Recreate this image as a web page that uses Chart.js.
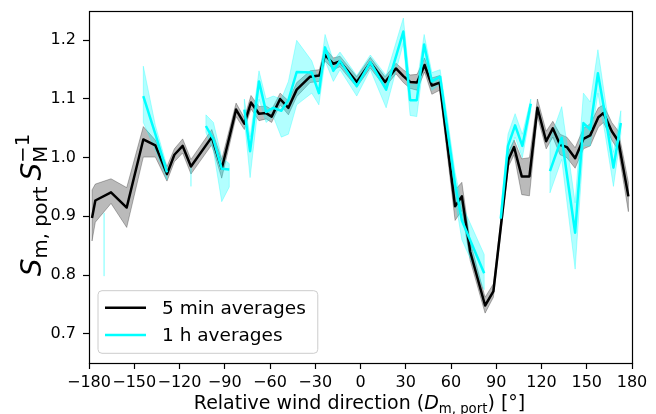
<!DOCTYPE html>
<html>
<head>
<meta charset="utf-8">
<script src="https://cdn.jsdelivr.net/npm/chart.js@4.4.1/dist/chart.umd.min.js"></script>
<style>
  html, body { margin: 0; padding: 0; background: #ffffff; }
  #wrap { width: 656px; height: 414px; }
</style>
</head>
<body>
<div id="wrap"><canvas id="chart" width="656" height="414"></canvas></div>
<script>
// Port-side speed ratio versus relative wind direction.

// 5 min averages: direction [deg], mean ratio, lower / upper band
const dirFiveMin = [-178, -175.8, -165.4, -155, -144, -136, -128.3, -123.4, -117.9, -112.4,
  -98.6, -92, -82.5, -77, -72.6, -67.3, -62.6, -58.9, -53.3, -47.8,
  -42.3, -33.4, -27.3, -23.5, -18, -13.6, -2.5, 6.5, 16.3, 23.5,
  28.4, 32.9, 37.5, 42.5, 47.3, 52.5, 62.7, 67.2, 72.7, 82.6,
  88.1, 93.6, 98.1, 101.8, 106.9, 112, 117.3, 123.1, 127.5, 132.3,
  136.8, 142.3, 147.8, 152.3, 157.7, 161.1, 166.6, 171, 177.6];
const sFiveMin = [0.897, 0.927, 0.941, 0.915, 1.031, 1.021, 0.972, 1.005, 1.020, 0.985,
  1.035, 0.981, 1.082, 1.058, 1.094, 1.075, 1.076, 1.070, 1.100, 1.085,
  1.116, 1.138, 1.140, 1.175, 1.160, 1.164, 1.129, 1.162, 1.129, 1.152,
  1.139, 1.129, 1.128, 1.158, 1.123, 1.128, 0.917, 0.934, 0.840, 0.748,
  0.772, 0.895, 0.997, 1.018, 0.968, 0.968, 1.085, 1.028, 1.050, 1.022,
  1.018, 0.999, 1.032, 1.038, 1.069, 1.076, 1.045, 1.028, 0.934];
const sFiveMinLo = [0.858, 0.890, 0.922, 0.881, 1.001, 1.001, 0.960, 0.993, 1.008, 0.972,
  1.022, 0.965, 1.070, 1.048, 1.083, 1.063, 1.066, 1.060, 1.090, 1.073,
  1.104, 1.128, 1.130, 1.165, 1.150, 1.155, 1.120, 1.153, 1.120, 1.143,
  1.128, 1.118, 1.115, 1.146, 1.108, 1.115, 0.893, 0.910, 0.825, 0.735,
  0.762, 0.885, 0.985, 1.005, 0.937, 0.935, 1.070, 1.015, 1.035, 1.005,
  1.000, 0.982, 1.015, 1.020, 1.052, 1.060, 1.030, 1.012, 0.908];
const sFiveMinHi = [0.945, 0.955, 0.964, 0.949, 1.053, 1.030, 0.985, 1.015, 1.032, 0.997,
  1.048, 0.997, 1.093, 1.068, 1.106, 1.087, 1.088, 1.082, 1.110, 1.097,
  1.128, 1.148, 1.150, 1.187, 1.170, 1.173, 1.138, 1.171, 1.138, 1.161,
  1.150, 1.141, 1.142, 1.170, 1.136, 1.140, 0.945, 0.958, 0.857, 0.762,
  0.785, 0.905, 1.010, 1.030, 0.998, 1.000, 1.100, 1.045, 1.062, 1.040,
  1.035, 1.017, 1.050, 1.058, 1.085, 1.090, 1.060, 1.045, 0.958];

// 1 h averages (null marks directions without data)
const dirHourly = [-170, null, -144, -136, -128.3, null, -112.4, null,
  -102.5, -97.5, -92, -87, null,
  -77, -73.2, -67.3, -62.6, -57.8, -52.5, -47.8, -42.3, -32.3, -27.6,
  -23.5, -18, -13.6, -2.5, 6.5, 17, 28.4, 32.9, 37.3, 42.2,
  47.3, 52.8, 57.5, 62.7, 67.2, 82, null,
  93, 97.8, 102.5, 107.3, 112.9, null,
  125.6, 133.4, 142.3, 147.8, 152.3, 157.4, 162.2, 167.7, 172.6];
const sHourly = [0.850, null, 1.105, 1.040, 0.975, null, 0.968, null,
  1.054, 1.031, 0.981, 0.980, null,
  1.082, 1.011, 1.130, 1.078, 1.085, 1.080, 1.098, 1.146, 1.145, 1.110,
  1.188, 1.148, 1.165, 1.122, 1.163, 1.116, 1.215, 1.098, 1.098, 1.193,
  1.130, 1.138, 1.050, 0.955, 0.893, 0.803, null,
  0.896, 1.020, 1.055, 1.020, 1.092, null,
  0.977, 1.034, 0.872, 1.059, 1.048, 1.144, 1.073, 0.983, 1.059];
const sHourlyLo = [0.798, null, 1.060, 1.013, 0.962, null, 0.951, null,
  1.043, 1.012, 0.925, 0.950, null,
  1.065, 0.966, 1.100, 1.060, 1.070, 1.035, 1.040, 1.090, 1.110, 1.090,
  1.165, 1.130, 1.150, 1.105, 1.150, 1.085, 1.195, 1.072, 1.070, 1.170,
  1.115, 1.125, 1.025, 0.930, 0.860, 0.775, null,
  0.885, 1.000, 1.035, 1.000, 1.080, null,
  0.940, 0.997, 0.810, 1.020, 1.020, 1.110, 1.040, 0.951, 1.040];
const sHourlyHi = [0.906, null, 1.156, 1.055, 0.985, null, 0.985, null,
  1.073, 1.060, 1.000, 0.990, null,
  1.100, 1.035, 1.148, 1.100, 1.105, 1.100, 1.130, 1.200, 1.165, 1.130,
  1.210, 1.165, 1.180, 1.140, 1.175, 1.140, 1.238, 1.125, 1.125, 1.210,
  1.145, 1.150, 1.070, 0.975, 0.920, 0.835, null,
  0.910, 1.040, 1.075, 1.040, 1.100, null,
  1.030, 1.087, 0.923, 1.110, 1.095, 1.184, 1.100, 1.009, 1.080];

const xTicks = [-180, -150, -120, -90, -60, -30, 0, 30, 60, 90, 120, 150, 180];
const yTicks = [0.7, 0.8, 0.9, 1.0, 1.1, 1.2];

const FONT = '"DejaVu Sans", sans-serif';
const MINUS = '\u2212';

const bandSets = [
  { dir: dirFiveMin, lo: sFiveMinLo, hi: sFiveMinHi, color: 'rgba(0,0,0,0.27)' },
  { dir: dirHourly, lo: sHourlyLo, hi: sHourlyHi, color: 'rgba(0,255,255,0.30)' }
];

function runsOf(dir) {
  const runs = [];
  let start = -1;
  for (let i = 0; i <= dir.length; i++) {
    const ok = i < dir.length && dir[i] !== null;
    if (ok && start < 0) start = i;
    if (!ok && start >= 0) { runs.push([start, i - 1]); start = -1; }
  }
  return runs;
}

// shaded spread bands under the lines
const bandPlugin = {
  id: 'spreadBands',
  beforeDatasetsDraw(chart) {
    const { ctx, chartArea: a, scales: { x, y } } = chart;
    ctx.save();
    ctx.beginPath();
    ctx.rect(a.left, a.top, a.right - a.left, a.bottom - a.top);
    ctx.clip();
    bandSets.forEach(b => {
      ctx.fillStyle = b.color;
      ctx.strokeStyle = b.color;
      ctx.lineWidth = 1;
      ctx.lineJoin = 'round';
      runsOf(b.dir).forEach(([s, e]) => {
        ctx.beginPath();
        for (let i = s; i <= e; i++) {
          const px = x.getPixelForValue(b.dir[i]);
          const py = y.getPixelForValue(b.hi[i]);
          if (i === s) ctx.moveTo(px, py); else ctx.lineTo(px, py);
        }
        for (let i = e; i >= s; i--) {
          ctx.lineTo(x.getPixelForValue(b.dir[i]), y.getPixelForValue(b.lo[i]));
        }
        ctx.closePath();
        ctx.fill();
        ctx.stroke();
      });
    });
    ctx.restore();
  }
};

// axes frame on all four sides
const framePlugin = {
  id: 'axesFrame',
  afterDatasetsDraw(chart) {
    const { ctx, chartArea: a } = chart;
    ctx.save();
    ctx.strokeStyle = '#000';
    ctx.lineWidth = 1.2;
    ctx.strokeRect(Math.round(a.left) + 0.5, Math.round(a.top) + 0.5,
      Math.round(a.right - a.left), Math.round(a.bottom - a.top));
    ctx.restore();
  }
};

// text with italic letters, subscripts and superscripts
function layoutRich(ctx, runs, size) {
  let x = 0, prevStart = 0, prevW = 0;
  const items = runs.map(r => {
    const fs = size * (r.s || 1);
    const font = (r.it ? 'italic ' : '') + fs + 'px ' + FONT;
    ctx.font = font;
    const w = ctx.measureText(r.t).width;
    let x0;
    if (r.stack) {
      x0 = prevStart;
      x = Math.max(prevStart + prevW, x0 + w);
    } else {
      x0 = x + (r.gap || 0) * size;
      x = x0 + w;
    }
    prevStart = x0; prevW = w;
    return { font, t: r.t, x: x0, dy: (r.dy || 0) * size };
  });
  return { items, width: x };
}
function drawRich(ctx, runs, size, cx, baseline) {
  const { items, width } = layoutRich(ctx, runs, size);
  const x0 = cx - width / 2;
  ctx.textBaseline = 'alphabetic';
  ctx.textAlign = 'left';
  items.forEach(it => {
    ctx.font = it.font;
    ctx.fillText(it.t, x0 + it.x, baseline + it.dy);
  });
}

const axisTitlePlugin = {
  id: 'axisTitles',
  afterDraw(chart) {
    const { ctx, chartArea: a } = chart;
    ctx.save();
    ctx.fillStyle = '#000';
    const xs = 19;
    drawRich(ctx, [
      { t: 'Relative wind direction (' },
      { t: 'D', it: true },
      { t: 'm, port', s: 0.7, dy: 0.22 },
      { t: ') [\u00b0]' }
    ], xs, (a.left + a.right) / 2 - 1, 409);

    const ys = 28;
    ctx.translate(31, 205);
    ctx.rotate(-Math.PI / 2);
    drawRich(ctx, [
      { t: 'S', it: true },
      { t: 'm, port', s: 0.7, dy: 0.22 },
      { t: 'S', it: true, gap: 0.22 },
      { t: 'M', s: 0.7, dy: 0.22 },
      { t: MINUS + '1', s: 0.7, dy: -0.42, stack: true }
    ], ys, 0, 0.36 * ys);
    ctx.restore();
  }
};

// legend box in the lower left of the axes
const legendPlugin = {
  id: 'boxLegend',
  afterDraw(chart) {
    const { ctx, chartArea: a } = chart;
    const sets = chart.data.datasets;
    const fs = 18.5;
    ctx.save();
    ctx.font = fs + 'px ' + FONT;
    const textW = Math.max(...sets.map(d => ctx.measureText(d.label).width));
    const left = a.left + 9;
    const bottom = a.bottom - 9.7;
    const h = 62.6;
    const top = bottom - h;
    const w = 64 + textW + 12;
    const r = 4;
    ctx.beginPath();
    ctx.moveTo(left + r, top);
    ctx.lineTo(left + w - r, top);
    ctx.arcTo(left + w, top, left + w, top + r, r);
    ctx.lineTo(left + w, bottom - r);
    ctx.arcTo(left + w, bottom, left + w - r, bottom, r);
    ctx.lineTo(left + r, bottom);
    ctx.arcTo(left, bottom, left, bottom - r, r);
    ctx.lineTo(left, top + r);
    ctx.arcTo(left, top, left + r, top, r);
    ctx.closePath();
    ctx.fillStyle = 'rgba(255,255,255,0.8)';
    ctx.fill();
    ctx.strokeStyle = '#cccccc';
    ctx.lineWidth = 1;
    ctx.stroke();
    sets.forEach((d, i) => {
      const yy = top + 17 + i * 27.3;
      ctx.beginPath();
      ctx.moveTo(left + 7, yy);
      ctx.lineTo(left + 48, yy);
      ctx.strokeStyle = d.borderColor;
      ctx.lineWidth = d.borderWidth;
      ctx.stroke();
      ctx.fillStyle = '#000';
      ctx.textBaseline = 'middle';
      ctx.textAlign = 'left';
      ctx.fillText(d.label, left + 64, yy + 1);
    });
    ctx.restore();
  }
};

const fmtX = v => (v < 0 ? MINUS + Math.abs(v) : String(v));
const fmtY = v => v.toFixed(1);

new Chart(document.getElementById('chart'), {
  type: 'line',
  data: {
    datasets: [
      {
        label: '5 min averages',
        data: dirFiveMin.map((d, i) => ({ x: d, y: sFiveMin[i] })),
        borderColor: '#000000',
        borderWidth: 2.5,
        pointRadius: 0,
        tension: 0,
        fill: false,
        borderJoinStyle: 'round',
        order: 2
      },
      {
        label: '1 h averages',
        data: dirHourly.map((d, i) => ({ x: d, y: sHourly[i] })),
        borderColor: '#00ffff',
        borderWidth: 2.5,
        pointRadius: 0,
        tension: 0,
        fill: false,
        spanGaps: false,
        borderJoinStyle: 'round',
        order: 1
      }
    ]
  },
  options: {
    responsive: false,
    animation: false,
    devicePixelRatio: 1,
    layout: { padding: { top: 11, right: 24, bottom: 0, left: 0 } },
    plugins: { legend: { display: false }, tooltip: { enabled: false } },
    scales: {
      x: {
        type: 'linear',
        min: -180,
        max: 180,
        afterBuildTicks: s => { s.ticks = xTicks.map(v => ({ value: v })); },
        afterFit: s => { s.height = 51; s.paddingLeft = 0; s.paddingRight = 0; },
        grid: { display: true, drawOnChartArea: false, drawTicks: true, tickLength: 6, tickColor: '#000', tickWidth: 1.2 },
        border: { display: false },
        ticks: {
          color: '#000', padding: 4, maxRotation: 0, autoSkip: false,
          font: { family: FONT, size: 16 },
          callback: v => fmtX(v)
        }
      },
      y: {
        type: 'linear',
        min: 0.65,
        max: 1.25,
        afterBuildTicks: s => { s.ticks = yTicks.map(v => ({ value: v })); },
        afterFit: s => { s.width = 89; s.paddingTop = 0; s.paddingBottom = 0; },
        grid: { display: true, drawOnChartArea: false, drawTicks: true, tickLength: 6, tickColor: '#000', tickWidth: 1.2 },
        border: { display: false },
        ticks: {
          color: '#000', padding: 7, autoSkip: false,
          font: { family: FONT, size: 16 },
          callback: v => fmtY(v)
        }
      }
    }
  },
  plugins: [bandPlugin, framePlugin, axisTitlePlugin, legendPlugin]
});
</script>
</body>
</html>
